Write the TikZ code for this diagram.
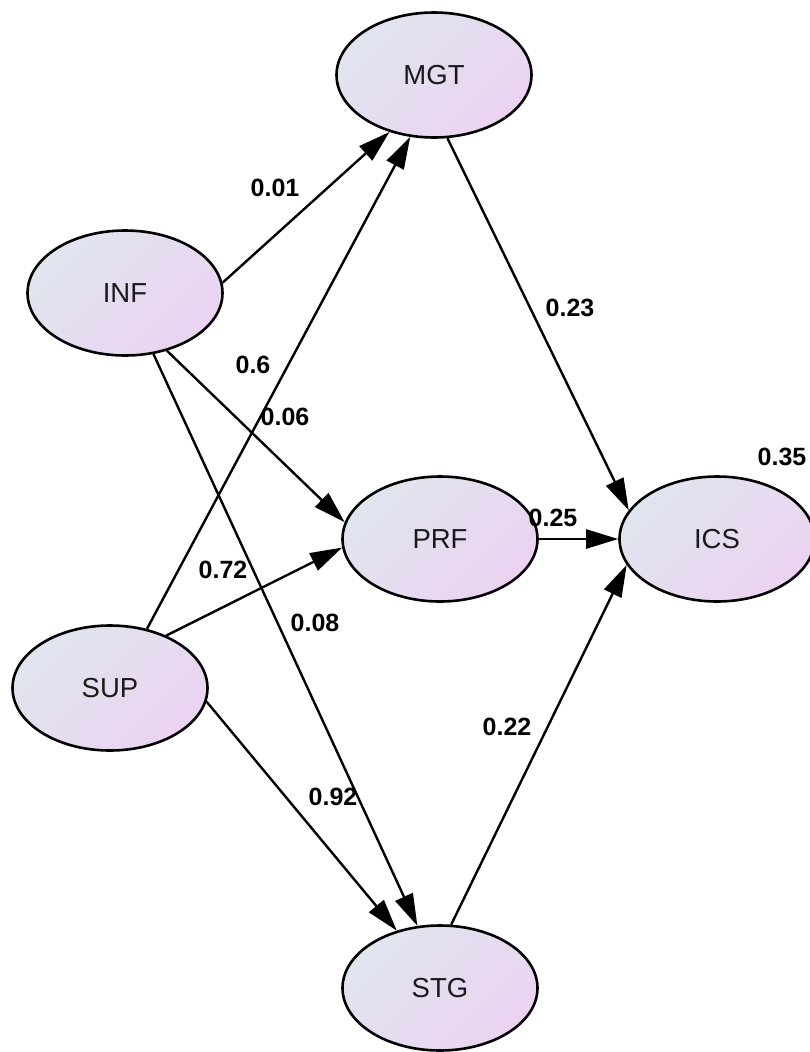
\documentclass[tikz,border=0pt]{standalone}
\usepackage{fontspec}
\setmainfont{Liberation Sans}
\usetikzlibrary{arrows.meta,shapes.geometric}
\definecolor{latleft}{HTML}{E0E5EE}
\definecolor{latright}{HTML}{EBD3F1}
\definecolor{lattext}{HTML}{1A1A1A}
\tikzset{
  latent/.style={ellipse, draw=black, line width=2.6pt, inner sep=0pt,
    minimum width=195pt, minimum height=125pt,
    top color=latleft, bottom color=latright, shading angle=45,
    text=lattext, font=\fontsize{27.5}{33}\selectfont},
  path/.style={line width=2.4pt, -{Triangle[length=32pt,width=19pt]}},
  coef/.style={font=\fontsize{25}{30}\selectfont\bfseries, text=black, inner sep=1pt}
}
\begin{document}
\begin{tikzpicture}[x=1pt,y=-1pt]
\useasboundingbox[fill=white] (0,0) rectangle (810,1052);

% latent variables
\node[latent] (MGT) at (434,75)  {MGT};
\node[latent] (INF) at (125,293) {INF};
\node[latent] (PRF) at (440,539) {PRF};
\node[latent] (ICS) at (717,539) {ICS};
\node[latent] (SUP) at (110,688) {SUP};
\node[latent] (STG) at (440,988) {STG};

% structural paths
\draw[path] (INF.6.5)  -- (MGT.232.8);
\draw[path] (SUP.58)   -- (MGT.249);
\draw[path] (MGT.-78)  -- (ICS.162.7);
\draw[path] (PRF.east) -- (ICS.west);
\draw[path] (STG.80)   -- (ICS.196.7);
\draw[path] (INF.-54)  -- (PRF.170.6);
\draw[path] (INF.-65.4) -- (STG.110.7);
\draw[path] (SUP.43.5) -- (PRF.185.2);
\draw[path] (SUP.-8.8) -- (STG.127.5);

% path coefficients
\node[coef] (c1) at (275,188) {0.01};
\node[coef] (c2) at (253,365) {0.6};
\node[coef] (c3) at (285,417) {0.06};
\node[coef] (c4) at (570,308) {0.23};
\node[coef] (c5) at (782,457) {0.35};
\node[coef] (c6) at (553,518) {0.25};
\node[coef] (c7) at (223,570) {0.72};
\node[coef] (c8) at (315,623) {0.08};
\node[coef] (c9) at (507,727) {0.22};
\node[coef] (c10) at (333,797) {0.92};
\end{tikzpicture}
\end{document}
